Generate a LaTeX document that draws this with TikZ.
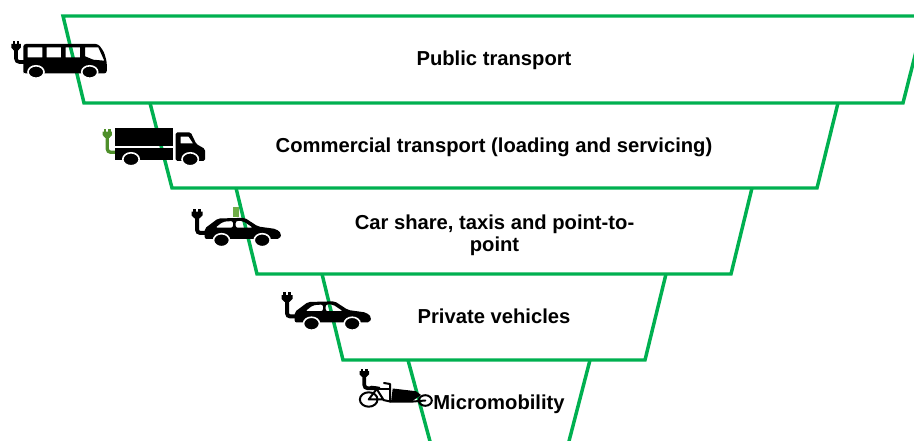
\documentclass[tikz,border=0pt]{standalone}
\usepackage{fontspec}
\setmainfont{Liberation Sans}
\definecolor{band}{HTML}{00B050}
\definecolor{plugg}{HTML}{4E8F2A}
\definecolor{tag}{HTML}{70AD47}
\tikzset{
  tier/.style={draw=band,line width=2.6pt,line join=miter},
  lbl/.style={font=\fontsize{15.15}{16.5}\selectfont\bfseries,text=black,align=center,inner sep=0pt},
  cord/.style={line width=2.7pt,line cap=round,rounded corners=2.5pt},
  ink/.style={fill=black,even odd rule},
  tyre/.style={fill=black,draw=white,line width=1.2pt},
  thin frame/.style={draw=black,line width=1.5pt,line cap=round,line join=round}
}
% x, top y, width, height, colour
\newcommand{\plugat}[5]{%
 \begin{scope}[shift={(#1,#2)},x=#3*0.75pt,y=-#4*0.75pt]
  \fill[#5] (-.36,0) rectangle (-.12,.4);
  \fill[#5] (.12,0) rectangle (.36,.4);
  \fill[#5] (-.5,.28) -- (.5,.28) -- (.5,.68) -- (.22,1) -- (-.22,1) -- (-.5,.68) -- cycle;
 \end{scope}}
\newcommand{\caricon}[2]{%
 \begin{scope}[shift={(#1,#2)}]
  \draw[cord,black,line width=3pt] (197,216) -- (197,233) -- (208,233);
  \plugat{197}{209}{11}{9.5}{black}
  \fill[ink,rounded corners=1.5pt] (204.7,239) -- (204.7,228.5) -- (218,218.5) -- (244.7,217.8) -- (258,226.5) -- (276,229) -- (281.5,233.5) -- (279.7,239) -- cycle
    (215.3,227.7) -- (223,221.7) -- (233,221) -- (233,227.7) -- cycle
    (235.7,221) -- (243,221) -- (253,227.7) -- (235.7,227.7) -- cycle;
  \draw[tyre] (221.5,240.2) ellipse (8 and 6.5);
  \draw[tyre] (262.2,240.2) ellipse (8 and 6.5);
 \end{scope}}
\begin{document}
\begin{tikzpicture}[x=0.75pt,y=-0.75pt]
\useasboundingbox (0,0) rectangle (914,441);
\begin{scope}
\clip (0,0) rectangle (914,441);
\draw[tier] (63,16) -- (925,16) -- (903,103) -- (84,103) -- cycle;
\draw[tier] (150,103) -- (172,188) -- (817,188) -- (838,103);
\draw[tier] (236,188) -- (257,274) -- (731,274) -- (752,188);
\draw[tier] (322,274) -- (343,360) -- (645,360) -- (666,274);
\draw[tier] (408,360) -- (431,445);
\draw[tier] (590,360) -- (568,445);
\end{scope}
\node[lbl] (public) at (494,60.5) {Public transport};
\node[lbl] (commercial) at (494,147) {Commercial transport (loading and servicing)};
\node[lbl] (share) at (494.5,235) {Car share, taxis and point-to-\\point};
\node[lbl] (private) at (494,316.5) {Private vehicles};
\node[lbl] (micro) at (499,404) {Micromobility};
% bus
\draw[cord,black] (16,49) -- (16,62) -- (25,62);
\plugat{16}{41.3}{9.5}{9.2}{black}
\fill[ink] (23.3,71.5) [rounded corners=2pt] -- (23.3,44) -- (98.3,44) -- (104,52) -- (106.8,62) -- (106.8,73.5) -- (23.3,73.5) -- cycle
 [sharp corners] (27.7,47.3) rectangle (42.3,57.3)
 (46.7,47.3) rectangle (61,57.3)
 (65.7,47.3) rectangle (80,57.3)
 (85,47.3) -- (98.3,47.3) -- (104.3,60.7) -- (93.3,59.7) -- (85,56.3) -- cycle;
\draw[tyre] (36,72) ellipse (8 and 6.2);
\draw[tyre] (89.7,72) ellipse (8 and 6.2);
% truck
\draw[cord,plugg,line width=2.5pt] (107.3,136) -- (107.3,152.3) -- (115,152.3);
\plugat{107.3}{129}{9.2}{9}{plugg}
\fill[black] (114.5,127.7) rectangle (172.5,146);
\fill[black] (114.5,148) rectangle (172.5,160.5);
\fill[ink] (175.7,161) [rounded corners=1.2pt] -- (175.7,132.3) -- (190.7,132.3) -- (196.3,144) -- (205,149) -- (205,161) -- cycle
 [sharp corners] (180.7,136.7) -- (188.7,136.7) -- (193,143.3) -- (180.7,143.3) -- cycle;
\draw[tyre] (131,159.3) ellipse (8.2 and 6.5);
\draw[tyre] (190.2,159.3) ellipse (8.2 and 6.5);
% cars
\caricon{0}{0}
\fill[tag] (233,207.5) rectangle (239,217);
\caricon{90}{83.5}
% cargo bike
\draw[cord,black,line width=2.8pt] (364.3,375) -- (364.3,388.3) -- (376,388.3);
\plugat{364.3}{369}{9.5}{8}{black}
\draw[thin frame] (368.7,399.5) ellipse (8.8 and 7.2);
\draw[thin frame] (425.3,400.5) ellipse (6.5 and 5.3);
\draw[thin frame] (368.7,399.5) -- (376.7,389) -- (383.3,399.5) -- cycle;
\draw[thin frame] (371,386.7) -- (379.3,387.7);
\draw[thin frame] (376.7,389) -- (389.5,389);
\draw[thin frame] (384,383) -- (390,384) -- (390,401.5);
\draw[thin frame] (383.3,400) -- (390,401.5);
\fill[black] (392.7,388.5) -- (416,391.2) -- (421,395) -- (411,402) -- (391,402) -- cycle;
\draw[thin frame] (390,401.7) -- (411,401.7) -- (425.3,400.5);
\end{tikzpicture}
\end{document}
